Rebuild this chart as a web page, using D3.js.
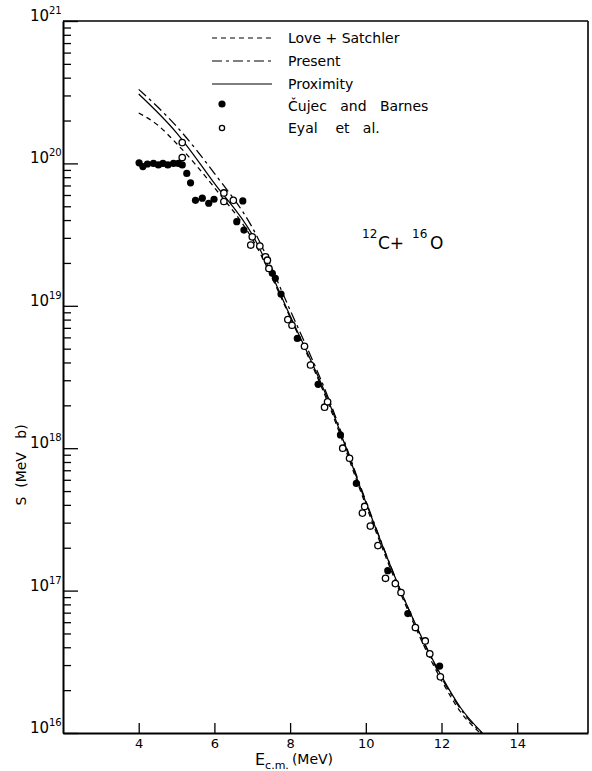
<!DOCTYPE html>
<html>
<head>
<meta charset="utf-8">
<script src="https://cdn.jsdelivr.net/npm/d3@7"></script>
<style>
  html, body { margin: 0; padding: 0; background: #fff; }
  svg { display: block; font-family: "DejaVu Sans", "Liberation Sans", sans-serif; }
</style>
</head>
<body>
<svg id="chart" width="592" height="771"></svg>
<script>
// ---------- DATA ----------
const xTicks = [4, 6, 8, 10, 12, 14];
const yDecades = [16, 17, 18, 19, 20, 21];

// Theory curves: energy (MeV) and S (MeV b)
const proxE = [4, 5, 6, 7, 8, 9, 10, 11, 12, 12.5, 13.08];
const proxS = [3.07e20, 1.64e20, 7.24e19, 3.16e19, 8.51e18, 2.19e18, 4.17e17, 8.91e16, 2.51e16, 1.51e16, 1.0e16];

const presE = [4, 5, 6, 7, 8, 9, 10, 11, 12, 12.5, 13.05];
const presS = [3.31e20, 1.82e20, 8.51e19, 3.55e19, 9.33e18, 2.29e18, 4.27e17, 8.91e16, 2.45e16, 1.48e16, 1.0e16];

const loveE = [4, 4.5, 5, 6, 7, 8, 9, 10, 11, 12, 12.5, 13.02];
const loveS = [2.26e20, 1.86e20, 1.38e20, 6.76e19, 2.95e19, 8.32e18, 2.09e18, 3.98e17, 8.51e16, 2.34e16, 1.41e16, 1.0e16];

// Čujec and Barnes (filled)
const cujecE = [4.01, 4.11, 4.23, 4.39, 4.52, 4.64, 4.77, 4.92, 5.05, 5.15, 5.27, 5.37, 5.50, 5.68, 5.85, 5.99,
                6.59, 6.75, 6.78, 7.53, 7.61, 7.76, 8.19, 8.74, 9.33, 9.75, 10.58, 11.11, 11.95];
const cujecS = [1.01e20, 9.5e19, 9.9e19, 1.0e20, 9.75e19, 1.0e20, 9.75e19, 1.0e20, 1.0e20, 9.75e19, 8.5e19, 7.3e19,
                5.5e19, 5.7e19, 5.25e19, 5.6e19, 3.9e19, 5.45e19, 3.4e19, 1.69e19, 1.56e19, 1.21e19, 5.9e18,
                2.81e18, 1.24e18, 5.66e17, 1.38e17, 6.9e16, 2.95e16];

// Eyal et al. (open)
const eyalE = [5.15, 5.15, 6.25, 6.25, 6.50, 6.96, 7.00, 7.20, 7.35, 7.40, 7.44, 7.94, 8.05, 8.38, 8.54, 8.91, 8.99,
               9.39, 9.57, 9.91, 9.97, 10.12, 10.32, 10.52, 10.78, 10.93, 11.31, 11.57, 11.69, 11.97];
const eyalS = [1.40e20, 1.10e20, 6.2e19, 5.4e19, 5.5e19, 2.67e19, 3.05e19, 2.63e19, 2.21e19, 2.09e19, 1.83e19,
               8.0e18, 7.3e18, 5.2e18, 3.84e18, 1.94e18, 2.12e18, 1.0e18, 8.5e17, 3.5e17, 3.9e17, 2.84e17,
               2.07e17, 1.22e17, 1.12e17, 9.7e16, 5.5e16, 4.43e16, 3.6e16, 2.48e16];

const legendLabels = ["Love + Satchler", "Present", "Proximity", "Čujec   and   Barnes", "Eyal    et   al."];

// ---------- LAYOUT ----------
(function () {
const svg = d3.select("#chart");
const pL = 63, pR = 588, pT = 21, pB = 733;

const x = d3.scaleLinear().domain([2, 15.87]).range([pL, pR]);
const y = d3.scaleLog().domain([1e16, 1e21]).range([pB, pT]);

const zip = (a, b) => a.map((v, i) => [v, b[i]]);

svg.append("defs").append("clipPath").attr("id", "clip")
  .append("rect").attr("x", pL).attr("y", pT).attr("width", pR - pL).attr("height", pB - pT);

// frame
const g = svg.append("g");
g.append("line").attr("x1", pL).attr("x2", pR).attr("y1", pT).attr("y2", pT)
  .attr("stroke", "#000").attr("stroke-width", 1.6);
g.append("line").attr("x1", pR).attr("x2", pR).attr("y1", pT).attr("y2", pB)
  .attr("stroke", "#000").attr("stroke-width", 1.6);

// x axis (ticks inward)
const xAxis = d3.axisBottom(x).tickValues(xTicks).tickSizeInner(-10).tickSizeOuter(0).tickPadding(10)
  .tickFormat(d3.format("d"));
const gx = svg.append("g").attr("transform", `translate(0,${pB})`).call(xAxis);
gx.select(".domain").attr("stroke-width", 2);
gx.selectAll(".tick line").attr("stroke-width", 1.3);
gx.selectAll(".tick text").attr("font-size", 13).attr("font-family", "DejaVu Sans").attr("dy", "0.42em");

// y axis: minor ticks + major ticks inward
const minorVals = [];
for (let d = 16; d < 21; d++) for (let m = 2; m <= 9; m++) minorVals.push(m * Math.pow(10, d));
const yAxisMinor = d3.axisLeft(y).tickValues(minorVals).tickSizeInner(-8).tickSizeOuter(0).tickFormat("");
const gyMinor = svg.append("g").attr("transform", `translate(${pL},0)`).call(yAxisMinor);
gyMinor.select(".domain").attr("stroke-width", 2);
gyMinor.selectAll(".tick line").attr("stroke-width", 1.3);

const majorVals = yDecades.map(d => Math.pow(10, d));
const yAxisMajor = d3.axisLeft(y).tickValues(majorVals).tickSizeInner(-15).tickSizeOuter(0).tickFormat("");
const gyMajor = svg.append("g").attr("transform", `translate(${pL},0)`).call(yAxisMajor);
gyMajor.select(".domain").remove();
gyMajor.selectAll(".tick line").attr("stroke-width", 1.3);

// y labels 10^n
yDecades.forEach(dd => {
  const yy = y(Math.pow(10, dd));
  svg.append("text").attr("x", 49).attr("y", yy).attr("text-anchor", "end")
    .attr("font-size", 15).text("10");
  svg.append("text").attr("x", 49).attr("y", yy - 7).attr("font-size", 10).text(dd);
});

// y title
svg.append("text").attr("transform", "translate(26,465) rotate(-90)").attr("text-anchor", "middle")
  .attr("font-size", 14).style("white-space", "pre").text("S  (MeV   b)");

// x title
const xt = svg.append("text").attr("x", 255).attr("y", 765).attr("font-size", 16);
xt.append("tspan").text("E");
xt.append("tspan").attr("font-size", 11).attr("dy", 4).text("c.m.");
xt.append("tspan").attr("font-size", 14).attr("dx", 3).attr("dy", -5).text("(MeV)");

// curves
const line = d3.line().x(d => x(d[0])).y(d => y(d[1])).curve(d3.curveMonotoneX);
const plot = svg.append("g").attr("clip-path", "url(#clip)");
const series = [
  { pts: zip(loveE, loveS), dash: "5,4" },
  { pts: zip(presE, presS), dash: "10,4,3,4" },
  { pts: zip(proxE, proxS), dash: null }
];
series.forEach(s => {
  plot.append("path").attr("d", line(s.pts)).attr("fill", "none").attr("stroke", "#000")
    .attr("stroke-width", 1.25).attr("stroke-dasharray", s.dash);
});

// points
plot.selectAll("circle.cujec").data(zip(cujecE, cujecS)).join("circle").attr("class", "cujec")
  .attr("cx", d => x(d[0])).attr("cy", d => y(d[1])).attr("r", 3.6).attr("fill", "#000");
plot.selectAll("circle.eyal").data(zip(eyalE, eyalS)).join("circle").attr("class", "eyal")
  .attr("cx", d => x(d[0])).attr("cy", d => y(d[1])).attr("r", 3.2).attr("fill", "#fff")
  .attr("stroke", "#000").attr("stroke-width", 1.3);

// legend
const legY = [38, 61, 84, 106, 128];
const leg = svg.append("g").attr("font-size", 14);
[0, 1, 2].forEach(i => {
  leg.append("line").attr("x1", 212).attr("x2", 272).attr("y1", legY[i]).attr("y2", legY[i])
    .attr("stroke", "#000").attr("stroke-width", 1.2).attr("stroke-dasharray", series[i].dash);
});
leg.append("circle").attr("cx", 222).attr("cy", legY[3] - 2).attr("r", 3.6).attr("fill", "#000");
leg.append("circle").attr("cx", 222).attr("cy", legY[4]).attr("r", 2.6).attr("fill", "#fff")
  .attr("stroke", "#000").attr("stroke-width", 1.3);
legendLabels.forEach((lab, i) => {
  leg.append("text").attr("x", 288).attr("y", legY[i] + 5).style("white-space", "pre").text(lab);
});

// reaction label 12C + 16O
const rl = svg.append("g");
rl.append("text").attr("x", 362).attr("y", 238).attr("font-size", 12).text("12");
rl.append("text").attr("x", 378).attr("y", 249).attr("font-size", 17).text("C+");
rl.append("text").attr("x", 412).attr("y", 238).attr("font-size", 12).text("16");
rl.append("text").attr("x", 430).attr("y", 249).attr("font-size", 17).text("O");
})();
</script>
</body>
</html>
